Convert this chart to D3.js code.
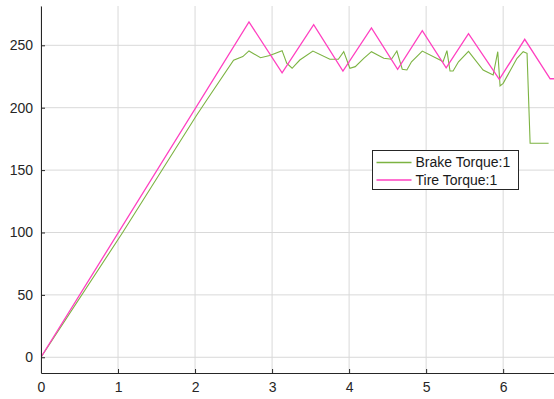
<!DOCTYPE html>
<html>
<head>
<meta charset="utf-8">
<script src="https://cdn.jsdelivr.net/npm/d3@7"></script>
<style>
    body { margin: 0; background: #fff; }
    svg { display: block; font-family: "Liberation Sans", Arial, sans-serif; }
    .axis text { fill: #262626; font-size: 14px; }
    .axis path, .axis line { stroke: #262626; }
    .grid line { stroke: #d9d9d9; }
</style>
</head>
<body>
<div id="chart"></div>
<script>
// time (s) and torque readings
let tireTime   = [0, 2.70, 3.13, 3.54, 3.92, 4.29, 4.63, 4.95, 5.26, 5.55, 5.95, 6.28, 6.61, 6.70];
let tireTorque = [0, 268.7, 228, 266.5, 229.4, 263.9, 230.8, 261.7, 232, 259.3, 222.7, 254.8, 223.2, 223.2];

let brakeTime   = [0, 1.06, 2.02, 2.15, 2.50, 2.62, 2.70, 2.85, 2.97, 3.13, 3.19, 3.26, 3.36, 3.53, 3.75, 3.86, 3.93,
    4.01, 4.08, 4.19, 4.29, 4.45, 4.55, 4.62, 4.69, 4.75, 4.81, 4.95, 5.18, 5.22, 5.27, 5.31, 5.35, 5.42,
    5.55, 5.74, 5.87, 5.93, 5.96, 6.00, 6.18, 6.26, 6.31, 6.35, 6.59];
let brakeTorque = [0, 100, 194, 206, 238, 241, 245.5, 240, 241.8, 245.7, 235.6, 231.6, 238.2, 245.4, 238.8, 238.8, 244.9,
    231.6, 232.9, 239.6, 244.9, 239.6, 238.8, 245.4, 230.8, 230.2, 236.8, 245.4, 238.2, 236.8, 245.7, 229.4, 229.4, 236.8,
    245.1, 230.2, 226.2, 244.9, 217.4, 219.5, 239.6, 244.9, 243.6, 171.5, 171.5];

let xTicks = [0, 1, 2, 3, 4, 5, 6];
let yTicks = [0, 50, 100, 150, 200, 250];
let seriesNames = ["Brake Torque:1", "Tire Torque:1"];
let seriesColors = ["#7cb342", "#ff40c0"];

let width = 554, height = 399;
let plot = {left: 41, top: 6, right: 554, bottom: 373};

let svg = d3.select("#chart").append("svg")
    .attr("width", width)
    .attr("height", height);

let x = d3.scaleLinear().domain([0, 6.66]).range([plot.left, plot.right]);
let y = d3.scaleLinear().domain([-12.6, 281.5]).range([plot.bottom, plot.top]);

// grid lines
let grid = svg.append("g").attr("class", "grid");
grid.selectAll(".gx").data(xTicks).enter().append("line")
    .attr("x1", d => x(d)).attr("x2", d => x(d))
    .attr("y1", plot.top).attr("y2", plot.bottom);
grid.selectAll(".gy").data(yTicks).enter().append("line")
    .attr("x1", plot.left).attr("x2", plot.right)
    .attr("y1", d => y(d)).attr("y2", d => y(d));

// lines
let line = d3.line().x(d => x(d[0])).y(d => y(d[1]));
let brakeData = brakeTime.map((t, i) => [t, brakeTorque[i]]);
let tireData = tireTime.map((t, i) => [t, tireTorque[i]]);

svg.append("defs").append("clipPath").attr("id", "clip")
    .append("rect")
    .attr("x", plot.left).attr("y", plot.top)
    .attr("width", plot.right - plot.left).attr("height", plot.bottom - plot.top);

let lines = svg.append("g").attr("clip-path", "url(#clip)");
lines.append("path")
    .datum(brakeData)
    .attr("d", line)
    .attr("fill", "none")
    .attr("stroke", seriesColors[0])
    .attr("stroke-width", 1.1);
lines.append("path")
    .datum(tireData)
    .attr("d", line)
    .attr("fill", "none")
    .attr("stroke", seriesColors[1])
    .attr("stroke-width", 1.3);

// axes
let xAxis = d3.axisBottom(x).tickValues(xTicks).tickFormat(d3.format("d"))
    .tickSizeInner(-4).tickSizeOuter(0).tickPadding(9);
let yAxis = d3.axisLeft(y).tickValues(yTicks).tickFormat(d3.format("d"))
    .tickSizeInner(-4).tickSizeOuter(0).tickPadding(8);

svg.append("g")
    .attr("class", "x-axis axis")
    .attr("transform", `translate(0,${plot.bottom})`)
    .call(xAxis);
svg.append("g")
    .attr("class", "y-axis axis")
    .attr("transform", `translate(${plot.left},0)`)
    .call(yAxis);

// legend
let legend = svg.append("g").attr("class", "legend")
    .attr("transform", "translate(372.5,150.5)");
legend.append("rect")
    .attr("width", 146).attr("height", 39)
    .attr("fill", "#fff")
    .attr("stroke", "#262626")
    .attr("stroke-width", 1);
seriesNames.forEach((name, i) => {
    let ly = 12 + i * 17.5;
    legend.append("line")
        .attr("x1", 4).attr("x2", 39)
        .attr("y1", ly).attr("y2", ly)
        .attr("stroke", seriesColors[i])
        .attr("stroke-width", 1.3);
    legend.append("text")
        .attr("x", 43).attr("y", ly)
        .attr("dy", "0.35em")
        .style("font-size", "14px")
        .attr("fill", "#1a1a1a")
        .text(name);
});
</script>
</body>
</html>
